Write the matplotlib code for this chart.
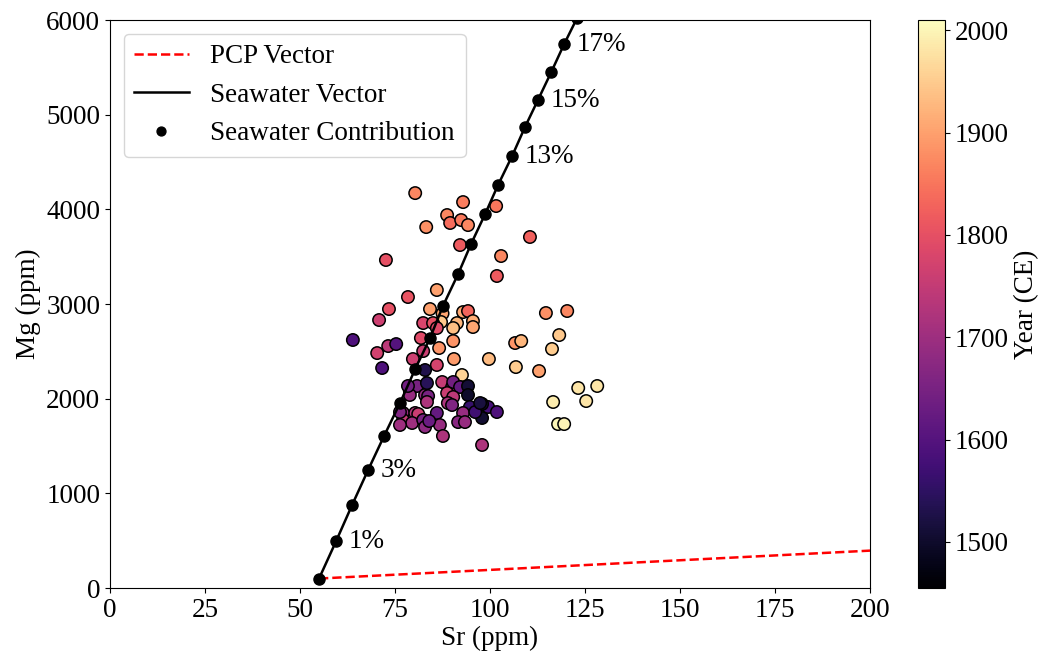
import matplotlib
matplotlib.use("Agg")
import matplotlib.pyplot as plt
import numpy as np

plt.rcParams['font.family'] = ['Liberation Serif', 'DejaVu Serif']

# Seawater mixing vector (0% .. 18%)
sw_sr = [55.0, 59.5, 63.7, 67.9, 72.1, 76.3, 80.3, 84.2, 87.6, 91.6, 95.0,
         98.7, 102.1, 105.8, 109.2, 112.6, 116.1, 119.5, 122.9]
sw_mg = [100, 496, 877, 1246, 1605, 1954, 2313, 2640, 2979, 3317, 3634,
         3950, 4257, 4563, 4870, 5155, 5450, 5746, 6021]
label_idx = [1, 3, 13, 15, 17]
label_txt = ["1%", "3%", "13%", "15%", "17%"]

# PCP vector
pcp_sr = [55, 200]
pcp_mg = [100, 395]

# Sample data
sample_sr = [80.3, 92.9, 88.7, 89.5, 92.4, 94.2, 83.2, 101.6, 92.1, 110.5,
             102.9, 72.6, 101.8, 86.0, 78.4, 73.4, 70.8, 84.2, 87.5, 92.9,
             94.2, 95.5, 95.5, 91.3, 90.3, 87.1, 82.4, 85.0, 86.0, 81.8,
             90.3, 82.4, 86.6, 70.3, 73.2, 75.3, 79.7, 86.0, 90.5, 99.7,
             71.6, 82.9, 92.6, 106.6, 108.2, 114.7, 120.3, 118.2, 116.3, 106.8,
             112.9, 123.2, 128.2, 116.6, 125.3, 117.9, 119.5, 63.9,
             99.5, 101.8, 97.9, 97.9, 78.9, 80.8, 78.9, 82.9, 83.7, 83.4,
             87.4, 90.0, 90.3, 92.1, 94.2, 88.7, 90.3, 88.9, 90.0, 94.2,
             86.0, 94.7, 92.9, 96.1, 97.4, 91.6, 93.4, 77.1, 80.3, 81.1,
             77.1, 79.5, 82.4, 82.9, 86.8, 87.6, 97.9, 76.3, 76.3, 83.4,
             84.0, 78.4]
sample_mg = [4172, 4077, 3940, 3856, 3887, 3834, 3813, 4035, 3623, 3708,
             3507, 3465, 3296, 3148, 3074, 2947, 2831, 2947, 2900, 2915,
             2926, 2820, 2757, 2799, 2746, 2810, 2799, 2799, 2746, 2641,
             2609, 2503, 2535, 2482, 2556, 2577, 2419, 2356, 2419, 2419,
             2324, 2303, 2250, 2588, 2609, 2905, 2926, 2672, 2525, 2334,
             2292, 2113, 2134, 1965, 1975, 1732, 1732, 2620,
             1912, 1859, 1944, 1796, 2081, 2134, 2039, 2039, 2028, 1965,
             2176, 2123, 2176, 2123, 2134, 2060, 2018, 1954, 1933, 2039,
             1849, 1912, 1849, 1859, 1954, 1753, 1753, 1849, 1849, 1838,
             1775, 1743, 1775, 1701, 1722, 1606, 1511, 1859, 1722, 2165,
             1764, 2134]
sample_year = [1870, 1860, 1870, 1840, 1855, 1870, 1880, 1850, 1815, 1825,
               1870, 1800, 1815, 1900, 1805, 1800, 1765, 1900, 1905, 1910,
               1830, 1915, 1905, 1925, 1935, 1945, 1780, 1800, 1790, 1790,
               1885, 1760, 1885, 1770, 1740, 1600, 1765, 1775, 1895, 1930,
               1590, 1530, 1960, 1885, 1925, 1880, 1870, 1945, 1950, 1950,
               1900, 1980, 1980, 1990, 1980, 2000, 1995, 1590,
               1580, 1590, 1515, 1505, 1700, 1650, 1690, 1690, 1650, 1720,
               1750, 1730, 1640, 1620, 1510, 1760, 1740, 1720, 1660, 1500,
               1620, 1560, 1690, 1570, 1520, 1670, 1690, 1690, 1730, 1760,
               1750, 1700, 1650, 1680, 1690, 1720, 1720, 1660, 1700, 1540,
               1630, 1640]

FS = 19.5

fig = plt.figure(figsize=(10.42, 6.57), dpi=100)
ax = fig.add_axes([0.1056, 0.105, 0.7294, 0.8645])
cax = fig.add_axes([0.881, 0.105, 0.0259, 0.8645])

sc = ax.scatter(sample_sr, sample_mg, c=sample_year, cmap='magma',
                vmin=1455, vmax=2010, s=80, edgecolors='black',
                linewidths=1.1, zorder=2)
ax.plot(pcp_sr, pcp_mg, color='red', linestyle='--', lw=1.8,
        label='PCP Vector', zorder=3)
ax.plot(sw_sr, sw_mg, color='black', lw=1.8, label='Seawater Vector', zorder=3)
ax.plot(sw_sr, sw_mg, 'o', color='black', ms=8, lw=0,
        label='Seawater Contribution', zorder=4)
for i, t in zip(label_idx, label_txt):
    ax.annotate(t, (sw_sr[i], sw_mg[i]), xytext=(9, 0),
                textcoords='offset points', va='center', ha='left',
                fontsize=FS)

ax.set_xlim(0, 200)
ax.set_ylim(0, 6000)
ax.set_xlabel('Sr (ppm)', fontsize=FS, labelpad=2)
ax.set_ylabel('Mg (ppm)', fontsize=FS, labelpad=4)
ax.tick_params(labelsize=FS)
ax.legend(loc='upper left', fontsize=FS, framealpha=0.8, markerscale=0.8)

cb = fig.colorbar(sc, cax=cax)
cb.set_label('Year (CE)', fontsize=FS)
cb.ax.tick_params(labelsize=FS)

fig.savefig('out.png', dpi=100)
